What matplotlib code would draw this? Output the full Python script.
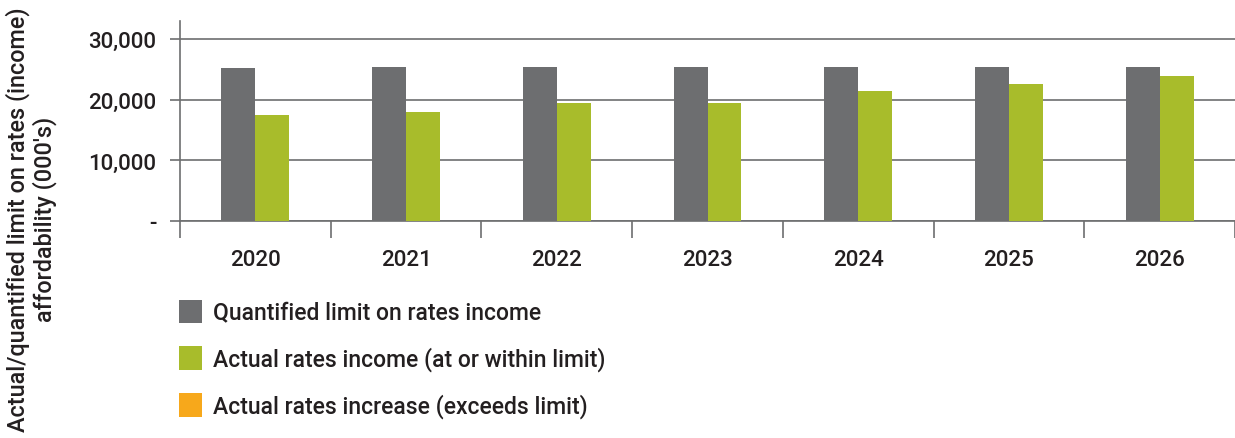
import matplotlib
matplotlib.use("Agg")
import matplotlib.pyplot as plt
import numpy as np
from matplotlib.patches import Patch
from matplotlib.ticker import FuncFormatter

years = ["2020", "2021", "2022", "2023", "2024", "2025", "2026"]
quantified_limit = [25200, 25400, 25400, 25400, 25400, 25400, 25400]
actual_within = [17500, 18000, 19500, 19400, 21400, 22600, 23900]
actual_exceeds = [0, 0, 0, 0, 0, 0, 0]
legend_labels = ["Quantified limit on rates income",
                 "Actual rates income (at or within limit)",
                 "Actual rates increase (exceeds limit)"]

c_gray = "#6D6E70"
c_green = "#A8BC2B"
c_orange = "#F7A81B"
c_text = "#231F20"
c_grid = "#6D6E70"

plt.rcParams['font.family'] = ['Roboto', 'DejaVu Sans']
plt.rcParams['font.weight'] = 'medium'
FS = 16

fig = plt.figure(figsize=(12.35, 4.39), dpi=100)
ax = fig.add_axes([180/1235, 1-222/439, 1-180/1235, 200/439])

x = np.arange(len(years))
w = 0.225
ax.bar(x - w/2, quantified_limit, width=w, color=c_gray, zorder=3)
ax.bar(x + w/2, actual_within, width=w, color=c_green, zorder=3)
ax.bar(x + w/2, actual_exceeds, width=w, bottom=actual_within, color=c_orange, zorder=3)

ax.set_xlim(-0.5, len(years) - 0.5)
ax.set_ylim(0, 33000)
ax.set_yticks([0, 10000, 20000, 30000])
ax.yaxis.set_major_formatter(FuncFormatter(lambda v, p: "-" if v == 0 else f"{int(v):,}"))
ax.grid(axis='y', color=c_grid, linewidth=1.2, zorder=0)

ax.set_xticks(x)
ax.set_xticklabels(years)
ax.set_xticks(np.arange(len(years) + 1) - 0.5, minor=True)
ax.tick_params(axis='x', which='major', length=0, pad=20, labelsize=FS, labelcolor=c_text)
ax.tick_params(axis='x', which='minor', length=12, width=1.2, color=c_grid, direction='out')
ax.tick_params(axis='y', length=7, width=1.2, color=c_grid, pad=10, labelsize=FS, labelcolor=c_text)

for s in ['top', 'right']:
    ax.spines[s].set_visible(False)
ax.spines['left'].set_color(c_grid)
ax.spines['left'].set_linewidth(1.2)
ax.spines['bottom'].set_color(c_grid)
ax.spines['bottom'].set_linewidth(1.2)

fig.text(31/1235, 0.5, "Actual/quantified limit on rates (income)\naffordability (000's)",
         rotation=90, ha='center', va='center', fontsize=16.8, color=c_text,
         linespacing=1.15)

handles = [Patch(facecolor=c_gray), Patch(facecolor=c_green), Patch(facecolor=c_orange)]
fig.legend(handles, legend_labels, loc='upper left', bbox_to_anchor=(158/1235, 1-280/439),
           frameon=False, fontsize=16.5, labelcolor=c_text, handlelength=1.02,
           handleheight=1.22, handletextpad=0.5, labelspacing=0.95)

fig.savefig("out.png", dpi=100)
